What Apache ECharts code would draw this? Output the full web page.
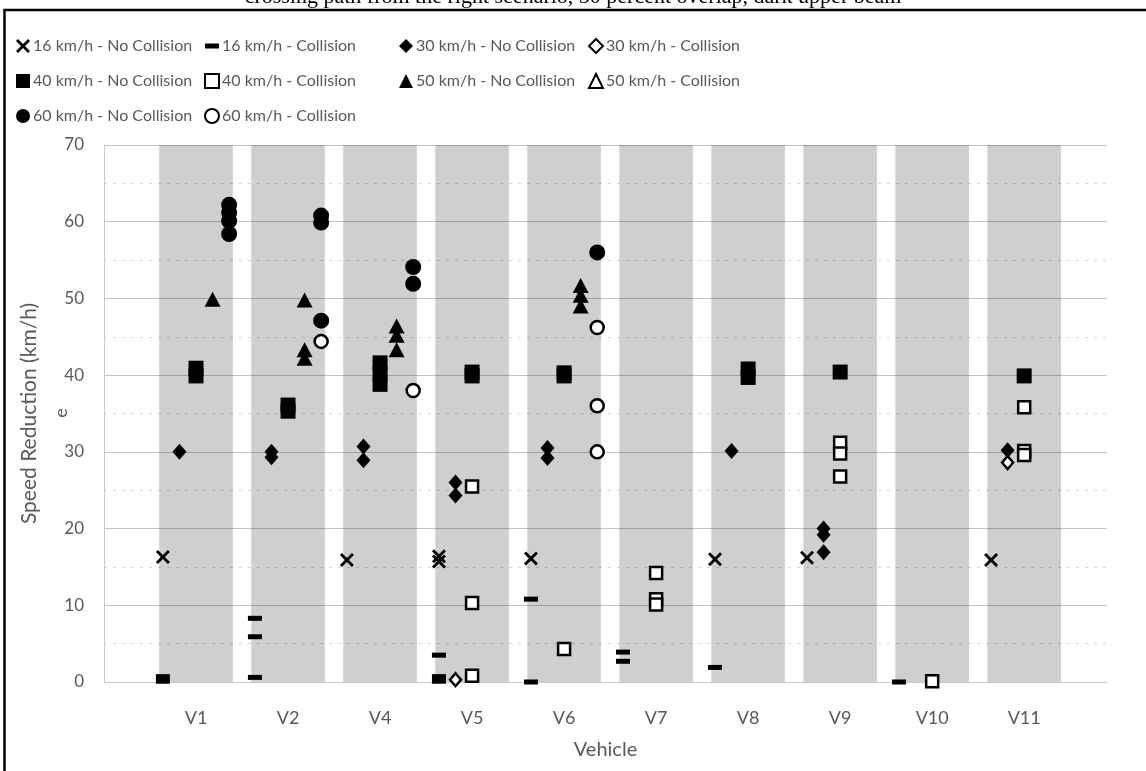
<!DOCTYPE html>
<html>
<head>
<meta charset="utf-8">
<script src="https://cdn.jsdelivr.net/npm/echarts@6/dist/echarts.min.js"></script>
<style>
  html, body { margin: 0; padding: 0; background: #fff; }
  #chart { width: 1146px; height: 771px; }
</style>
</head>
<body>
<div id="chart"></div>
<script>
// vehicles (x categories)
const vehicles = ['V1', 'V2', 'V4', 'V5', 'V6', 'V7', 'V8', 'V9', 'V10', 'V11']
const yTicks = [0, 10, 20, 30, 40, 50, 60, 70]

// speed reduction values per vehicle, one list per vehicle
const kmh16NoCol = [[16.3], [], [15.9], [16.4, 15.7], [16.1], [], [16.0], [16.2], [], [15.9]]
const kmh16Col = [[0.7, 0.1], [8.3, 5.9, 0.6], [], [3.5, 0.7, 0.1], [10.8, 0], [3.9, 2.7], [1.9], [], [0], []]
const kmh30NoCol = [[30.0], [30.0, 29.3], [30.7, 28.9], [26.0, 24.3], [30.5, 29.2], [], [30.1], [20.0, 19.2, 16.9], [], [30.2]]
const kmh30Col = [[], [], [], [0.3], [], [], [], [], [], [28.6]]
const kmh40NoCol = [[40.9, 39.9], [36.1, 35.3], [41.6, 40.2, 38.8], [40.4, 39.9], [40.3, 39.9], [], [40.8, 39.7], [40.4], [], [39.9]]
const kmh40Col = [[], [], [], [25.5, 10.3, 0.8], [4.3], [14.2, 10.8, 10.1], [], [31.2, 29.8, 26.8], [0.1], [35.8, 30.1, 29.6]]
const kmh50NoCol = [[49.9], [49.8, 43.3, 42.2], [46.4, 45.2, 43.3], [], [51.7, 50.4, 49.0], [], [], [], [], []]
const kmh50Col = [[], [], [], [], [], [], [], [], [], []]
const kmh60NoCol = [[62.2, 61.2, 60.1, 58.4], [60.8, 59.9, 47.1], [54.1, 51.9], [], [56.0], [], [], [], [], []]
const kmh60Col = [[], [44.4], [38.0], [], [46.2, 36.0, 30.0], [], [], [], [], []]

const seriesNames = [
  '16 km/h - No Collision', '16 km/h - Collision',
  '30 km/h - No Collision', '30 km/h - Collision',
  '40 km/h - No Collision', '40 km/h - Collision',
  '50 km/h - No Collision', '50 km/h - Collision',
  '60 km/h - No Collision', '60 km/h - Collision'
]
const seriesValues = [kmh16NoCol, kmh16Col, kmh30NoCol, kmh30Col, kmh40NoCol, kmh40Col, kmh50NoCol, kmh50Col, kmh60NoCol, kmh60Col]

const TXT = '#595959'
const FONT = 'Lato'
const crossPath = 'path://M0,2L2,0L7,5L12,0L14,2L9,7L14,12L12,14L7,9L2,14L0,12L5,7Z'
const dashPath = 'path://M0,0H14V5H0Z'

// marker look per series (filled / hollow)
const markers = [
  { symbol: crossPath, size: 14, icon: crossPath },
  { symbol: 'rect', size: [14, 5], icon: dashPath },
  { symbol: 'diamond', size: [14, 16], icon: 'diamond' },
  { symbol: 'diamond', size: [11, 13], icon: 'diamond', hollow: true },
  { symbol: 'rect', size: 15, icon: 'rect' },
  { symbol: 'rect', size: 12, icon: 'rect', hollow: true },
  { symbol: 'triangle', size: [16, 15], icon: 'triangle' },
  { symbol: 'triangle', size: [13, 12], icon: 'triangle', hollow: true },
  { symbol: 'circle', size: 16, icon: 'circle' },
  { symbol: 'circle', size: 13, icon: 'circle', hollow: true }
]
// horizontal dodge of each speed inside a vehicle band
const speedOffset = [-0.36, -0.18, 0, 0.18, 0.36]

const chart = echarts.init(document.getElementById('chart'))

const series = seriesNames.map((name, s) => {
  const data = []
  seriesValues[s].forEach((vals, i) => {
    vals.forEach(v => data.push([i + 1 + speedOffset[Math.floor(s / 2)], v]))
  })
  const m = markers[s]
  return {
    name,
    type: 'scatter',
    symbol: m.symbol,
    symbolSize: m.size,
    data,
    z: 3 + s,
    itemStyle: m.hollow
      ? { color: '#fff', borderColor: '#000', borderWidth: 2.5, opacity: 1 }
      : { color: '#000', opacity: 1 },
    emphasis: { disabled: true }
  }
})

// gray band behind each vehicle
series.unshift({
  name: 'bands',
  type: 'scatter',
  data: [],
  silent: true,
  z: 1,
  markArea: {
    silent: true,
    itemStyle: { color: 'rgba(0,0,0,0.19)' },
    data: vehicles.map((v, i) => [{ xAxis: i + 1 - 0.4 }, { xAxis: i + 1 + 0.4 }])
  }
})

// legend laid out in 4 columns like the original
const legendCols = [[0, 4, 8], [1, 5, 9], [2, 6], [3, 7]]
const legendLeft = [16, 204, 399, 588]
const legend = legendCols.map((col, c) => ({
  orient: 'vertical',
  left: legendLeft[c],
  top: 38,
  padding: 0,
  itemWidth: 14,
  itemHeight: 14,
  itemGap: 19,
  selectedMode: false,
  textStyle: { color: TXT, fontSize: 16, fontFamily: FONT, padding: [0, 0, 0, -2] },
  data: col.map(s => ({ name: seriesNames[s], icon: markers[s].icon }))
}))

const option = {
  animation: false,
  backgroundColor: '#fff',
  textStyle: { fontFamily: FONT },
  legend,
  grid: { left: 104, right: 39, top: 145, bottom: 89 },
  xAxis: {
    type: 'value',
    min: 0,
    max: 10.9,
    interval: 1,
    name: 'Vehicle',
    nameLocation: 'middle',
    nameGap: 58,
    nameTextStyle: { color: TXT, fontSize: 20, fontFamily: FONT },
    axisLine: { show: true, lineStyle: { color: '#c8c8c8' } },
    axisTick: { show: false },
    splitLine: { show: false },
    axisLabel: {
      color: TXT,
      fontSize: 18,
      fontFamily: FONT,
      margin: 27,
      showMaxLabel: false,
      formatter: v => (Number.isInteger(v) && vehicles[v - 1]) || ''
    }
  },
  yAxis: {
    type: 'value',
    min: yTicks[0],
    max: yTicks[yTicks.length - 1],
    interval: 10,
    name: 'Speed Reduction (km/h)',
    nameLocation: 'middle',
    nameGap: 64,
    nameTextStyle: { color: TXT, fontSize: 21, fontFamily: FONT },
    axisLine: { show: true, lineStyle: { color: '#c8c8c8' } },
    axisTick: { show: false },
    minorTick: { show: false, splitNumber: 2 },
    axisLabel: { color: TXT, fontSize: 17, fontFamily: FONT, margin: 20 },
    splitLine: { show: true, lineStyle: { color: '#c4c4c4', width: 1 } },
    minorSplitLine: { show: true, lineStyle: { color: '#d4d4d4', width: 1, type: [3, 6] } }
  },
  graphic: [
    {
      type: 'rect',
      silent: true,
      shape: { x: 4.5, y: 10, width: 1200, height: 800 },
      style: { fill: 'none', stroke: '#000', lineWidth: 2.5 },
      z: 100
    },
    {
      type: 'text',
      silent: true,
      x: 573,
      y: -3,
      style: {
        text: 'crossing path from the right scenario, 50 percent overlap, dark upper beam',
        font: '22px "Liberation Serif"',
        fill: '#000',
        align: 'center',
        verticalAlign: 'middle'
      }
    },
    {
      type: 'text',
      silent: true,
      x: 61,
      y: 413,
      rotation: Math.PI / 2,
      style: {
        text: 'e',
        font: '18px Lato',
        fill: TXT,
        align: 'center',
        verticalAlign: 'middle'
      }
    }
  ],
  series
}

chart.setOption(option)
</script>
</body>
</html>
